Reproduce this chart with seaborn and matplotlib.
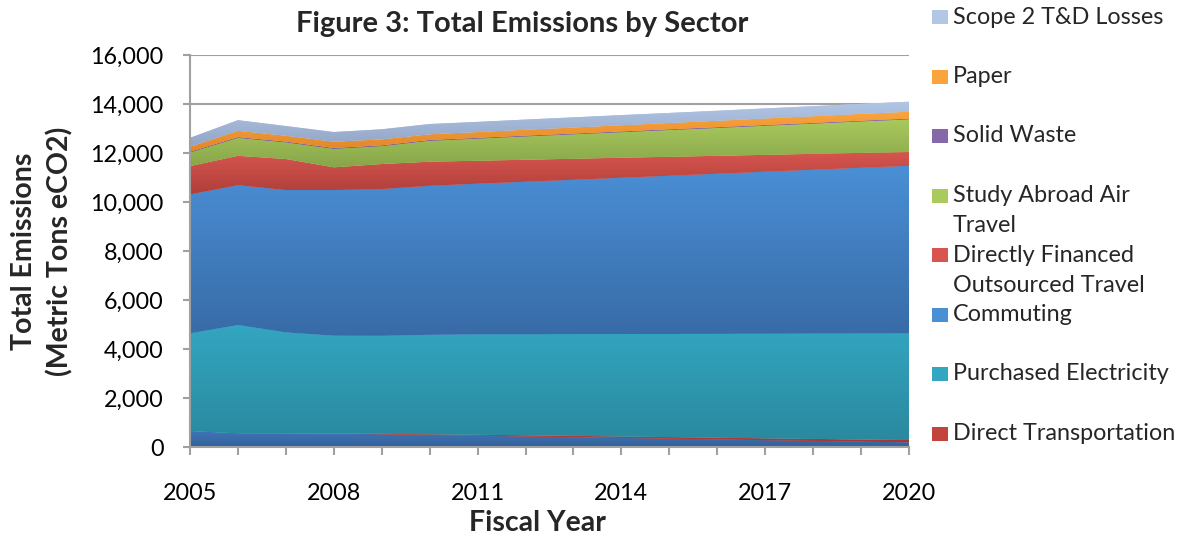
import numpy as np
import matplotlib
matplotlib.use("Agg")
import matplotlib.pyplot as plt
import seaborn as sns
from matplotlib.colors import LinearSegmentedColormap
from matplotlib.patches import Rectangle

# ---------------- data (metric tons eCO2, per layer, bottom -> top) ----------------
years = list(range(2005, 2021))
other_sources = [650, 560, 555, 545, 520, 490, 460, 430, 400, 370, 340, 310, 280, 250, 220, 190]
direct_transportation = [0, 0, 0, 10, 20, 30, 40, 50, 55, 60, 65, 70, 75, 80, 85, 95]
purchased_electricity = [3990, 4420, 4125, 3990, 4000, 4060, 4100, 4125, 4155, 4182, 4210, 4240, 4270, 4300, 4330, 4355]
commuting = [5670, 5710, 5810, 5945, 5990, 6085, 6150, 6225, 6300, 6380, 6460, 6535, 6615, 6690, 6765, 6840]
directly_financed_travel = [1155, 1195, 1265, 925, 1020, 980, 935, 895, 855, 815, 770, 730, 685, 645, 605, 560]
study_abroad_air_travel = [560, 734, 682, 760, 735, 857, 905, 955, 1000, 1045, 1095, 1140, 1190, 1235, 1287, 1335]
solid_waste = [30, 30, 30, 30, 30, 30, 30, 30, 30, 30, 30, 30, 30, 30, 30, 30]
paper = [198, 256, 239, 255, 243, 231, 235, 240, 245, 250, 255, 260, 265, 270, 275, 280]
scope2_td_losses = [365, 435, 395, 395, 410, 420, 415, 415, 415, 415, 410, 410, 410, 410, 410, 408]

layer_values = [other_sources, direct_transportation, purchased_electricity, commuting,
                directly_financed_travel, study_abroad_air_travel, solid_waste, paper,
                scope2_td_losses]
layer_labels = [None, "Direct Transportation", "Purchased Electricity", "Commuting",
                "Directly Financed\nOutsourced Travel", "Study Abroad Air\nTravel",
                "Solid Waste", "Paper", "Scope 2 T&D Losses"]
# (top colour, bottom colour) of Excel-like vertical gradients
layer_colors = [("#3F74B5", "#33629C"), ("#C3443D", "#A53630"), ("#33A6C1", "#2A899E"),
                ("#4A8FD6", "#386BA6"), ("#D8554F", "#AE3F3A"), ("#AACA5E", "#88A64A"),
                ("#8468A8", "#6C5290"), ("#FBA43C", "#E0852A"), ("#B2C6E6", "#92A5C5")]

x_tick_labels = [str(y) if (y - 2005) % 3 == 0 else "" for y in years]
y_ticks = list(range(0, 16001, 2000))

title = "Figure 3: Total Emissions by Sector"
x_label = "Fiscal Year"
y_label_lines = ["Total Emissions", "(Metric Tons eCO2)"]

# ---------------- style ----------------
sns.set_theme(style="white")
plt.rcParams["font.family"] = ["Lato", "DejaVu Sans"]
GRAY = "#A0A0A0"

W, H = 1192, 540
fig = plt.figure(figsize=(W / 100, H / 100), dpi=100)
ax_l, ax_r, ax_t, ax_b = 190, 909, 55, 447
ax = fig.add_axes([ax_l / W, 1 - ax_b / H, (ax_r - ax_l) / W, (ax_b - ax_t) / H])

x = np.array(years, dtype=float)
stack = np.cumsum(np.array(layer_values, dtype=float), axis=0)
lower = np.vstack([np.zeros(len(years)), stack[:-1]])

grad = np.linspace(0, 1, 256).reshape(-1, 1)
for lo, hi, (ctop, cbot) in zip(lower, stack, layer_colors):
    poly = ax.fill_between(x, lo, hi, facecolor=ctop, edgecolor="none", lw=0, zorder=3)
    cmap = LinearSegmentedColormap.from_list("g", [cbot, ctop])
    im = ax.imshow(grad, extent=[x[0], x[-1], lo.min(), hi.max()], origin="lower",
                   aspect="auto", cmap=cmap, interpolation="bilinear", zorder=3)
    im.set_clip_path(poly.get_paths()[0], ax.transData)

ax.set_xlim(2005, 2020)
ax.set_ylim(0, 16000)
ax.set_xticks(years)
ax.set_xticklabels(x_tick_labels)
ax.set_yticks(y_ticks)
ax.set_yticklabels([f"{v:,}" for v in y_ticks])
ax.grid(axis="y", color=GRAY, lw=1.5, zorder=0)
ax.grid(axis="x", visible=False)
ax.set_axisbelow(True)
for s in ["top", "right"]:
    ax.spines[s].set_visible(False)
for s in ["left", "bottom"]:
    ax.spines[s].set_color(GRAY)
    ax.spines[s].set_linewidth(1.5)
    ax.spines[s].set_zorder(5)
ax.tick_params(axis="y", direction="out", length=5, width=1.5, color=GRAY, pad=14,
               labelsize=16.8, labelcolor="black", left=True)
ax.tick_params(axis="x", direction="out", length=6, width=1.5, color=GRAY, pad=20,
               labelsize=16.8, labelcolor="black", bottom=True)

fig.text(522 / W, 1 - 24 / H, title, ha="center", va="center", fontsize=21, fontweight="bold")
fig.text(537 / W, 1 - 523 / H, x_label, ha="center", va="center", fontsize=20.5, fontweight="bold")
fig.text(24 / W, 1 - 251 / H, y_label_lines[0], ha="center", va="center", rotation=90,
         fontsize=20.5, fontweight="bold")
fig.text(60 / W, 1 - 251 / H, y_label_lines[1], ha="center", va="center", rotation=90,
         fontsize=20.5, fontweight="bold")

# legend (top entry = top layer)
row_y0, row_pitch, line_pitch = 17, 59.5, 30
entries = [(lab, col) for lab, col in zip(layer_labels, layer_colors) if lab][::-1]
for i, (lab, (ctop, cbot)) in enumerate(entries):
    yc = row_y0 + i * row_pitch
    fig.patches.append(Rectangle((932 / W, 1 - (yc + 7) / H), 16 / W, 14 / H,
                                 transform=fig.transFigure, facecolor=ctop, edgecolor="none"))
    for j, line in enumerate(lab.split("\n")):
        fig.text(953 / W, 1 - (yc + j * line_pitch) / H, line, ha="left", va="center",
                 fontsize=16.8)

fig.savefig("out.png", dpi=100)
